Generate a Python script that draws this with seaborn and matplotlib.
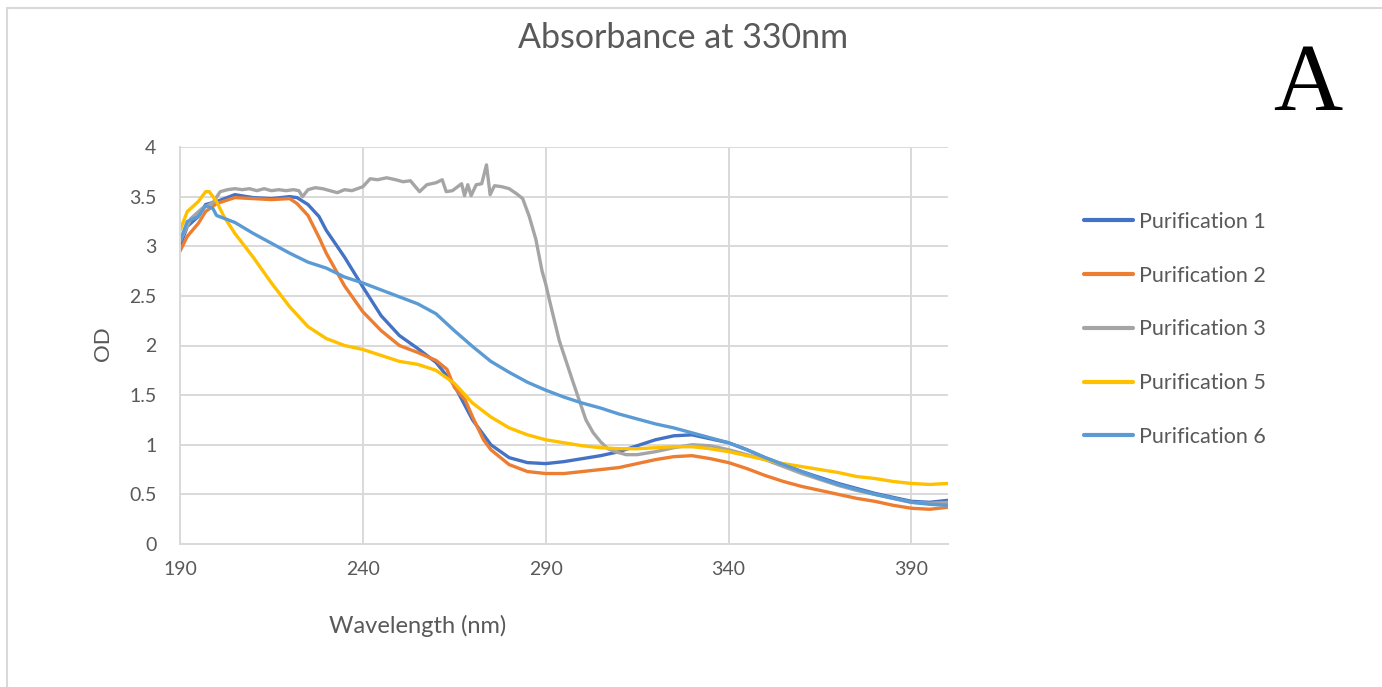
import numpy as np
import pandas as pd
import matplotlib
matplotlib.use("Agg")
import matplotlib.pyplot as plt
from matplotlib.lines import Line2D
import seaborn as sns

# ---------------- data ----------------
wl_p1 = [190, 192, 195, 197, 200, 205, 210, 215, 220, 222, 225, 228, 230, 235, 240, 245, 250,
         255, 260, 265, 270, 275, 280, 285, 290, 295, 300, 305, 310, 315, 320, 325, 330, 335,
         340, 345, 350, 355, 360, 365, 370, 375, 380, 385, 390, 395, 400]
od_p1 = [3.0, 3.2, 3.3, 3.42, 3.45, 3.52, 3.49, 3.48, 3.5, 3.49, 3.42, 3.3, 3.16, 2.89, 2.59, 2.3, 2.1,
         1.97, 1.83, 1.6, 1.25, 1.0, 0.87, 0.82, 0.81, 0.83, 0.86, 0.89, 0.93, 0.99, 1.05, 1.09, 1.1, 1.06,
         1.02, 0.95, 0.87, 0.8, 0.73, 0.67, 0.61, 0.56, 0.51, 0.47, 0.43, 0.42, 0.44]

wl_p2 = [190, 192, 195, 197, 200, 205, 210, 215, 220, 222, 225, 228, 230, 235, 240, 245, 250,
         255, 260, 263, 265, 268, 270, 273, 275, 280, 285, 290, 295, 300, 305, 310, 315, 320, 325,
         330, 335, 340, 345, 350, 355, 360, 365, 370, 375, 380, 385, 390, 395, 400]
od_p2 = [2.95, 3.1, 3.23, 3.35, 3.43, 3.49, 3.48, 3.47, 3.48, 3.43, 3.31, 3.09, 2.93, 2.6, 2.34, 2.15, 2.0,
         1.93, 1.85, 1.76, 1.58, 1.45, 1.28, 1.05, 0.95, 0.8, 0.73, 0.71, 0.71, 0.73, 0.75, 0.77, 0.81, 0.85, 0.88,
         0.89, 0.86, 0.82, 0.76, 0.69, 0.63, 0.58, 0.54, 0.5, 0.46, 0.43, 0.39, 0.36, 0.35, 0.37]

wl_p3 = [190, 193, 196, 199, 201, 203, 205, 207, 209, 211, 213, 215, 217, 219, 221, 222.5, 223.5, 225,
         227, 229, 231, 233, 235, 237, 240, 242, 244, 246.5, 249, 251, 253, 255.5, 257.5, 260, 261.7,
         262.8, 264.5, 267, 267.8, 268.7, 269.6, 271, 272.5, 273.8, 274.8, 276, 278, 280, 282, 283.7,
         285.5, 287.3, 289, 290, 291, 293.7, 297.3, 301, 303, 305, 307, 309, 312, 315, 320, 325, 330,
         335, 340, 345, 350, 355, 360, 365, 370, 375, 380, 385, 390, 395, 400]
od_p3 = [3.05, 3.28, 3.38, 3.44, 3.55, 3.57, 3.58, 3.57, 3.58, 3.56, 3.58, 3.56, 3.57, 3.56, 3.57, 3.56, 3.5, 3.57,
         3.59, 3.58, 3.56, 3.54, 3.57, 3.56, 3.6, 3.68, 3.67, 3.69, 3.67, 3.65, 3.66, 3.55, 3.62, 3.64, 3.67,
         3.55, 3.56, 3.63, 3.51, 3.62, 3.51, 3.62, 3.63, 3.82, 3.52, 3.61, 3.6, 3.58, 3.53, 3.48,
         3.3, 3.07, 2.75, 2.62, 2.46, 2.05, 1.65, 1.25, 1.12, 1.03, 0.96, 0.93, 0.9, 0.9, 0.93, 0.97, 1.0,
         0.99, 0.95, 0.9, 0.85, 0.78, 0.71, 0.65, 0.59, 0.54, 0.5, 0.46, 0.42, 0.41, 0.42]

wl_p5 = [190, 192, 195, 197, 198, 200, 202, 205, 210, 215, 220, 225, 230, 235, 240, 245, 250, 255,
         260, 265, 270, 275, 280, 285, 290, 295, 300, 305, 310, 315, 320, 325, 330, 335, 340, 345,
         350, 355, 360, 365, 370, 375, 380, 385, 390, 395, 400]
od_p5 = [3.16, 3.35, 3.45, 3.55, 3.55, 3.45, 3.3, 3.13, 2.89, 2.63, 2.39, 2.19, 2.07, 2.0, 1.96, 1.9, 1.84, 1.81,
         1.75, 1.62, 1.42, 1.28, 1.17, 1.1, 1.05, 1.02, 0.99, 0.97, 0.96, 0.96, 0.97, 0.98, 0.98, 0.96, 0.93, 0.89,
         0.85, 0.81, 0.78, 0.75, 0.72, 0.68, 0.66, 0.63, 0.61, 0.6, 0.61]

wl_p6 = [190, 192, 195, 197, 199, 200, 205, 210, 215, 220, 225, 230, 235, 240, 245, 250, 255, 260,
         265, 270, 275, 280, 285, 290, 295, 300, 305, 310, 315, 320, 325, 330, 335, 340, 345, 350,
         355, 360, 365, 370, 375, 380, 385, 390, 395, 400]
od_p6 = [3.05, 3.25, 3.3, 3.41, 3.38, 3.31, 3.24, 3.13, 3.03, 2.93, 2.84, 2.78, 2.69, 2.63, 2.56, 2.49, 2.42, 2.32,
         2.15, 1.99, 1.84, 1.73, 1.63, 1.55, 1.48, 1.42, 1.37, 1.31, 1.26, 1.21, 1.17, 1.12, 1.07, 1.02, 0.95, 0.87,
         0.8, 0.73, 0.66, 0.6, 0.55, 0.5, 0.46, 0.42, 0.4, 0.39]

series_names = ["Purification 1", "Purification 2", "Purification 3", "Purification 5", "Purification 6"]
series_colors = ["#4472C4", "#ED7D31", "#A5A5A5", "#FFC000", "#5B9BD5"]
x_ticks = [190, 240, 290, 340, 390]
y_ticks = [0, 0.5, 1, 1.5, 2, 2.5, 3, 3.5, 4]
y_tick_labels = ["0", "0.5", "1", "1.5", "2", "2.5", "3", "3.5", "4"]

frames = []
for name, wl, od in zip(series_names,
                        [wl_p1, wl_p2, wl_p3, wl_p5, wl_p6],
                        [od_p1, od_p2, od_p3, od_p5, od_p6]):
    frames.append(pd.DataFrame({"Wavelength": wl, "OD": od, "Series": name}))
df = pd.concat(frames, ignore_index=True)

# ---------------- style ----------------
sns.set_theme(style="white")
plt.rcParams["font.family"] = ["Lato", "DejaVu Sans"]
text_color = "#595959"
grid_color = "#D9D9D9"

fig = plt.figure(figsize=(13.82, 6.87), dpi=100)
ax = fig.add_axes([180 / 1382, 1 - 544 / 687, (948 - 180) / 1382, (544 - 147) / 687])

sns.lineplot(data=df, x="Wavelength", y="OD", hue="Series", hue_order=series_names,
             palette=series_colors, linewidth=2.4, sort=True, estimator=None, ax=ax,
             legend=True)

ax.set_xlim(190, 400)
ax.set_ylim(0, 4)
ax.set_xticks(x_ticks)
ax.set_yticks(y_ticks)
ax.set_yticklabels(y_tick_labels)
ax.grid(True, color=grid_color, linewidth=1.4)
ax.set_axisbelow(True)
for s in ["top", "right"]:
    ax.spines[s].set_visible(False)
for s in ["left", "bottom"]:
    ax.spines[s].set_color(grid_color)
    ax.spines[s].set_linewidth(1.4)
ax.tick_params(axis="both", length=0, labelsize=14, colors=text_color)
ax.tick_params(axis="y", pad=17)
ax.tick_params(axis="x", pad=12)

ax.set_xlabel("Wavelength (nm)", fontsize=17, color=text_color)
ax.xaxis.label.set_va("center")
ax.xaxis.set_label_coords((418 - 180) / 768, -(626 - 544) / 397)
ax.set_ylabel("OD", fontsize=16, color=text_color)
ax.yaxis.label.set_va("center")
ax.yaxis.label.set_ha("center")
ax.yaxis.set_label_coords((103 - 180) / 768, (544 - 344) / 397)

fig.text(683 / 1382, 1 - 38 / 687, "Absorbance at 330nm", fontsize=24.5, color=text_color,
         ha="center", va="center")
fig.text(1308 / 1382, 1 - 110 / 687, "A", fontsize=69, color="black",
         ha="center", va="baseline", family="Liberation Serif")

handles, labels = ax.get_legend_handles_labels()
leg = ax.legend(handles, labels, loc="upper left", bbox_to_anchor=(1073 / 1382, 1 - 201 / 687),
                bbox_transform=fig.transFigure, frameon=False, fontsize=15.5,
                handlelength=2.27, handletextpad=0.28, labelspacing=1.57, borderpad=0,
                labelcolor=text_color)
for h in leg.get_lines():
    h.set_linewidth(3)

# outer chart border (top and left visible)
fig.add_artist(Line2D([6.5 / 1382, 6.5 / 1382], [0, 1 - 8 / 687], transform=fig.transFigure,
                      color=grid_color, linewidth=1.5))
fig.add_artist(Line2D([6.5 / 1382, 1], [1 - 8 / 687, 1 - 8 / 687], transform=fig.transFigure,
                      color=grid_color, linewidth=1.5))

fig.savefig("out.png", dpi=100)
